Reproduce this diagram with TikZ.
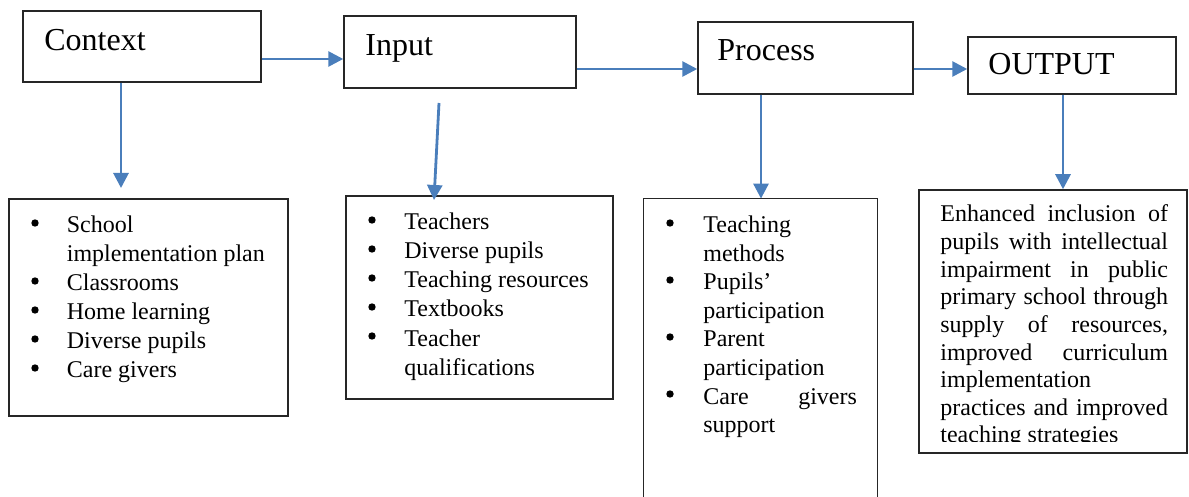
\documentclass[tikz,border=0pt]{standalone}
\usepackage{fontspec}
\setmainfont{Liberation Serif}
\usetikzlibrary{arrows.meta,fit}
\definecolor{flowblue}{HTML}{4A7EBB}
\tikzset{
  box/.style={draw=black!85, line width=0.75pt, inner sep=0pt},
  openbox/.style={inner sep=0pt},
  head/.style={anchor=base west, inner sep=0pt, font=\fontsize{16}{19}\selectfont},
  item/.style={anchor=base west, inner sep=0pt, font=\fontsize{12}{14}\selectfont},
  dot/.style={circle, fill=black, inner sep=0pt, minimum size=3.7pt},
  arr/.style={draw=flowblue, line width=1.4pt, -{Triangle[length=7.5pt,width=7.5pt]}},
}
\begin{document}
\begin{tikzpicture}[x=0.5pt,y=-0.5pt]
\clip (0,0) rectangle (1189,497);

% stage boxes
\node[box, fit={(23,11) (261,82)}] (ctx) {};
\node[box, fit={(344,16) (576,88)}] (inp) {};
\node[box, fit={(698,22) (913,94)}] (proc) {};
\node[box, fit={(968,37) (1176,94)}] (out) {};

\node[head] (ctxt) at (44,51) {Context};
\node[head] (inpt) at (365,56) {Input};
\node[head] (proct) at (717,61) {Process};
\node[head] (outt) at (988,75) {OUTPUT};

% detail boxes
\node[box, fit={(9,199) (288,416)}] (ctxl) {};
\node[box, fit={(346,196) (613,399)}] (inpl) {};
\node[openbox, fit={(644,199) (877,510)}] (procl) {};
\draw[black!85, line width=0.75pt] (procl.south west) -- (procl.north west) -- (procl.north east) -- (procl.south east);
\node[box, fit={(919,190) (1187,453)}] (outl) {};

% connectors between stages
\draw[arr] (ctx.east |- 0,59) -- (inp.west |- 0,59);
\draw[arr] (inp.east |- 0,69) -- (proc.west |- 0,69);
\draw[arr] (proc.east |- 0,69) -- (out.west |- 0,69);

% connectors down to the details
\coordinate (ctxend) at (121,188);
\draw[arr] (ctx.south -| ctxend) -- (ctxend);
\coordinate (inpstart) at (439,103);
\coordinate (inpend) at (434,200);
\draw[arr] (inpstart) -- (inpend);
\draw[arr] (proc.south -| 761,0) -- (procl.north -| 761,0);
\draw[arr] (out.south -| 1063,0) -- (outl.north -| 1063,0);

% context details
\foreach \yy/\tx [count=\i] in {233/School, 262/implementation plan, 291/Classrooms, 320/Home learning, 349/Diverse pupils, 378/Care givers}
  \node[item] (c\i) at (66.5,\yy) {\tx};
\foreach \yy [count=\i] in {233,291,320,349,378}
  \node[dot] (cb\i) at (35,\yy-10) {};

% input details
\foreach \yy/\tx [count=\i] in {230/Teachers, 259/Diverse pupils, 288/Teaching resources, 317/Textbooks, 346/Teacher, 375/qualifications}
  \node[item] (n\i) at (404,\yy) {\tx};
\foreach \yy [count=\i] in {230,259,288,317,346}
  \node[dot] (nb\i) at (372,\yy-10) {};

% process details
\foreach \yy/\tx [count=\i] in {233/Teaching, 261.5/methods, 290/Pupils’, 318.5/participation, 347/Parent, 375.5/participation, 404/{\makebox[76.75pt][l]{Care\hfill givers}}, 432.5/support}
  \node[item] (p\i) at (703,\yy) {\tx};
\foreach \yy [count=\i] in {233,290,347,404}
  \node[dot] (pb\i) at (670,\yy-10) {};

% output details, justified paragraph
\begin{scope}
\clip (919,190) rectangle (1187,441);
\node[item] (o1) at (940,222.0) {\makebox[113.8pt][s]{Enhanced inclusion of}};
\node[item] (o2) at (940,249.6) {\makebox[113.8pt][s]{pupils with intellectual}};
\node[item] (o3) at (940,277.2) {\makebox[113.8pt][s]{impairment in public}};
\node[item] (o4) at (940,304.8) {\makebox[113.8pt][s]{primary school through}};
\node[item] (o5) at (940,332.4) {\makebox[113.8pt][s]{supply of resources,}};
\node[item] (o6) at (940,360.0) {\makebox[113.8pt][s]{improved curriculum}};
\node[item] (o7) at (940,387.6) {implementation};
\node[item] (o8) at (940,415.2) {\makebox[113.8pt][s]{practices and improved}};
\node[item] (o9) at (940,442.8) {teaching strategies};
\end{scope}
\end{tikzpicture}
\end{document}
